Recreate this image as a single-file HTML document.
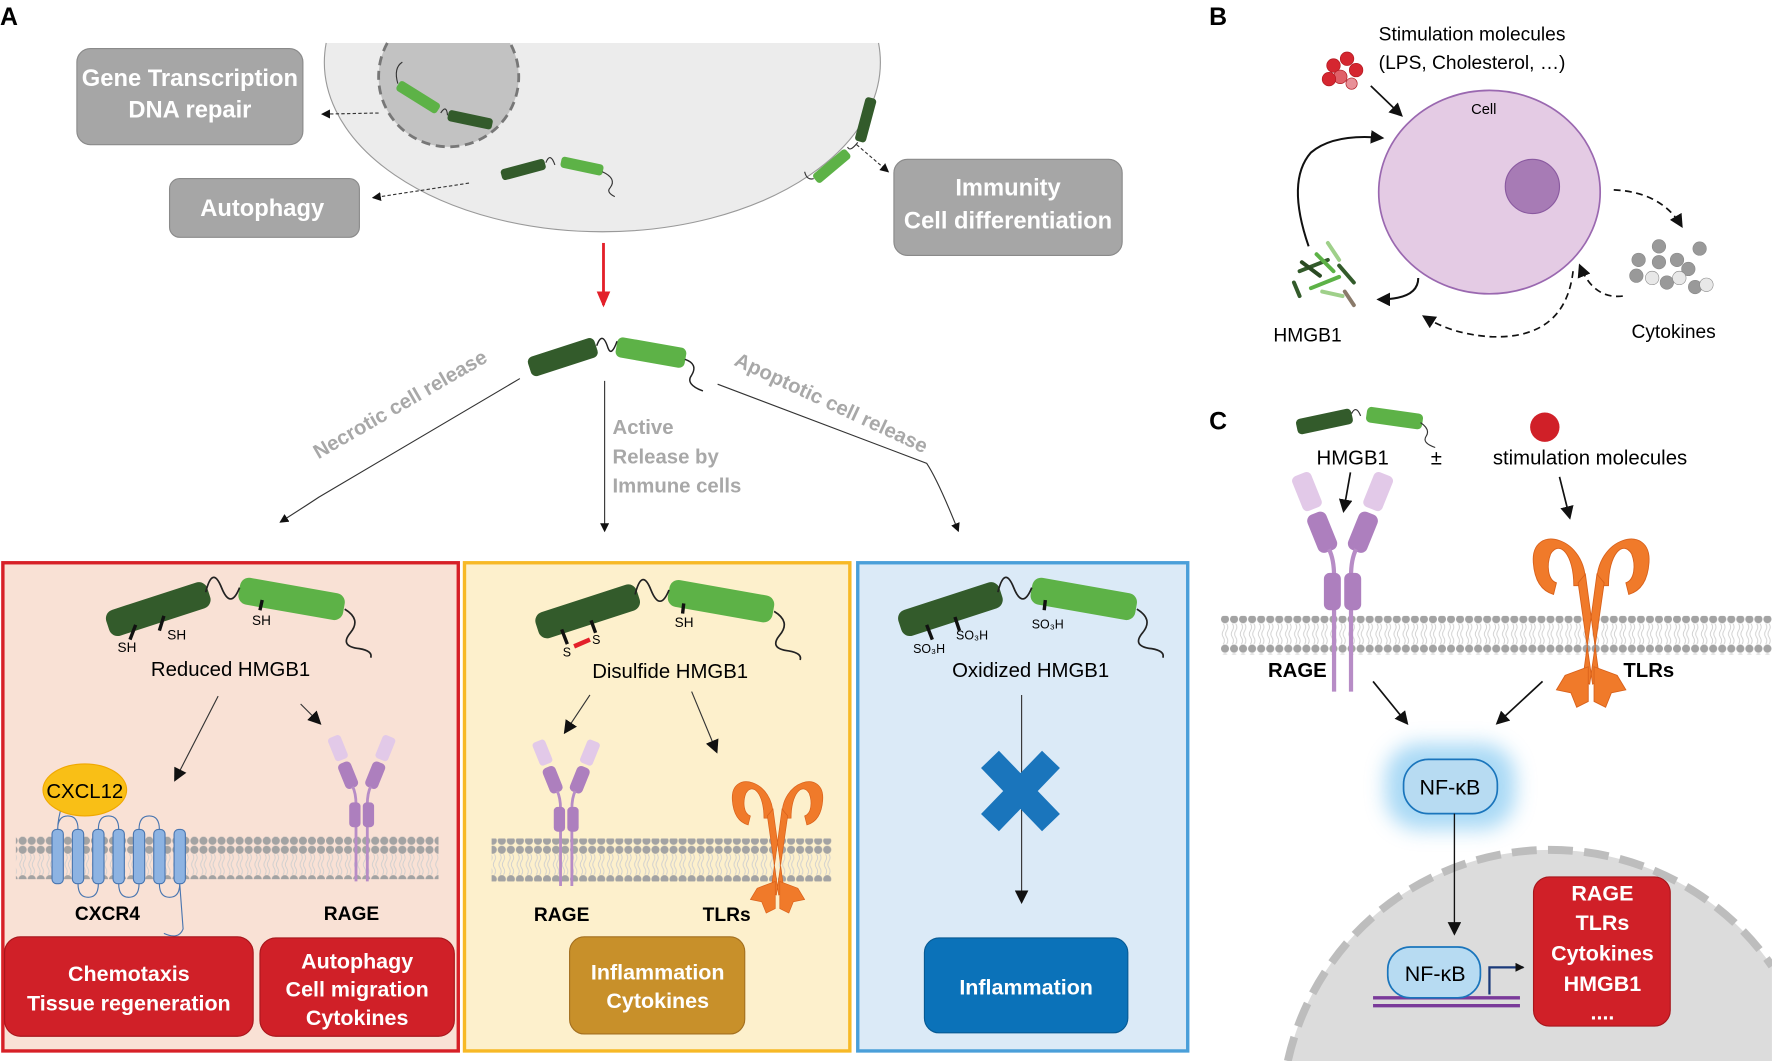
<!DOCTYPE html>
<html><head><meta charset="utf-8"><style>
html,body{margin:0;padding:0;background:#fff;overflow:hidden;width:1772px;height:1061px;}
svg{display:block;}
text{font-family:"Liberation Sans",sans-serif;}
</style></head><body>
<svg width="1772" height="1061" viewBox="0 0 1568 938.9" xmlns="http://www.w3.org/2000/svg">
<defs>
<marker id="ah" markerWidth="8" markerHeight="8" refX="7" refY="4" orient="auto" markerUnits="userSpaceOnUse"><path d="M0,0 L8,4 L0,8 z" fill="#111"/></marker>
<marker id="ahb" markerWidth="12" markerHeight="12" refX="10" refY="6" orient="auto" markerUnits="userSpaceOnUse"><path d="M0,0 L12,6 L0,12 z" fill="#111"/></marker>
<marker id="ahr" markerWidth="14" markerHeight="12" refX="12" refY="6" orient="auto" markerUnits="userSpaceOnUse"><path d="M0,0 L14,6 L0,12 z" fill="#e3202a"/></marker>
<pattern id="mem" width="8" height="34" patternUnits="userSpaceOnUse">
<circle cx="4" cy="4" r="3.6" fill="#a3a3a3"/><circle cx="4" cy="30" r="3.6" fill="#a3a3a3"/>
<path d="M2.5,8 q2,3 0,6 q-2,3 0,6 q2,3 0,6 M5.5,8 q2,3 0,6 q-2,3 0,6 q2,3 0,6" stroke="#cfcfcf" stroke-width="0.8" fill="none"/>
</pattern>
<filter id="glow" x="-30%" y="-30%" width="160%" height="160%"><feGaussianBlur stdDeviation="9"/></filter>
<g id="rage">
<rect x="-6" y="-11" width="12" height="22" rx="3" fill="#e2c9e8" transform="translate(-21,10) rotate(-22)"/>
<rect x="-6" y="-11" width="12" height="22" rx="3" fill="#e2c9e8" transform="translate(21,10) rotate(22)"/>
<rect x="-6" y="-12" width="12" height="24" rx="4" fill="#ad7fbe" transform="translate(-12,34) rotate(-22)"/>
<rect x="-6" y="-12" width="12" height="24" rx="4" fill="#ad7fbe" transform="translate(12,34) rotate(22)"/>
<path d="M-8,44 Q-5,50 -5,60 L-5,128 M8,44 Q5,50 5,60 L5,128" stroke="#b78cc6" stroke-width="2.5" fill="none"/>
<rect x="-11" y="58" width="10" height="22" rx="3.5" fill="#ad7fbe"/>
<rect x="1" y="58" width="10" height="22" rx="3.5" fill="#ad7fbe"/>
</g>
<g id="tlr" fill="#f07a2a" stroke="#d8601a" stroke-width="0.6">
<path d="M-4,44 C-2,10 -42,0 -40,28 C-39,42 -33,48 -26,50 L-24,42 C-30,40 -31,30 -28,22 C-22,12 -12,22 -12,44 z"/>
<path d="M4,44 C2,10 42,0 40,28 C39,42 33,48 26,50 L24,42 C30,40 31,30 28,22 C22,12 12,22 12,44 z"/>
<path d="M-9,42 L-4,36 L6,110 L1,112 z M9,42 L4,36 L-6,110 L-1,112 z"/>
<path d="M-2,100 L-18,106 L-24,116 L-14,118 L-10,128 L-2,124 z"/>
<path d="M2,100 L18,106 L24,116 L14,118 L10,128 L2,124 z"/>
</g>
<g id="mol">
<rect x="-47" y="-12" width="94" height="24" rx="8" fill="#335b2b" transform="translate(140,539) rotate(-18)"/>
<rect x="-47" y="-12" width="94" height="24" rx="8" fill="#5db247" transform="translate(258,530) rotate(10)"/>
<path d="M182,524 Q188,500 196,520 Q204,540 212,520" stroke="#222" stroke-width="1.5" fill="none"/>
<path d="M305,539 Q320,548 310,560 Q300,572 318,574 Q330,576 328,582" stroke="#222" stroke-width="1.5" fill="none"/>
</g>
</defs>

<text x="0" y="22" font-size="22" font-weight="bold">A</text>
<text x="1070" y="22" font-size="22" font-weight="bold">B</text>
<text x="1070" y="380" font-size="22" font-weight="bold">C</text>

<path d="M288.6,38 A246,150 0 1,0 777.4,38" fill="#ececec" stroke="#999" stroke-width="1"/>
<path d="M342.7,38 A62,62 0 1,0 451.3,38" fill="#c2c2c2" stroke="#777" stroke-width="2.5" stroke-dasharray="8,5"/>
<rect x="-21" y="-5" width="42" height="10" rx="3" fill="#5db247" transform="translate(370,86) rotate(32)"/>
<rect x="-20" y="-5" width="40" height="10" rx="3" fill="#335b2b" transform="translate(416,106) rotate(12)"/>
<path d="M352,74 Q348,60 356,55 M390,100 Q395,92 396,102" stroke="#333" stroke-width="1" fill="none"/>
<rect x="-20" y="-5" width="40" height="10" rx="3" fill="#335b2b" transform="translate(463,150) rotate(-15)"/>
<rect x="-19" y="-5" width="38" height="10" rx="3" fill="#5db247" transform="translate(515,147) rotate(12)"/>
<path d="M483,144 Q487,134 491,146 M533,152 Q546,158 540,166 Q536,170 544,174" stroke="#333" stroke-width="1" fill="none"/>
<rect x="-5" y="-20" width="10" height="40" rx="3" fill="#335b2b" transform="translate(766,106) rotate(15)"/>
<rect x="-5" y="-19" width="10" height="38" rx="3" fill="#5db247" transform="translate(736,147) rotate(50)"/>
<path d="M759,126 Q752,135 750,130 M720,158 Q714,160 712,152" stroke="#333" stroke-width="1" fill="none"/>

<rect x="68" y="43" width="200" height="85" rx="12" fill="#a6a6a6" stroke="#8a8a8a"/>
<text x="168" y="76" font-size="21" font-weight="bold" fill="#fff" text-anchor="middle">Gene Transcription</text>
<text x="168" y="104" font-size="21" font-weight="bold" fill="#fff" text-anchor="middle">DNA repair</text>
<rect x="150" y="158" width="168" height="52" rx="9" fill="#a6a6a6" stroke="#8a8a8a"/>
<text x="232" y="191" font-size="21" font-weight="bold" fill="#fff" text-anchor="middle">Autophagy</text>
<rect x="791" y="141" width="202" height="85" rx="12" fill="#a6a6a6" stroke="#8a8a8a"/>
<text x="892" y="173" font-size="21" font-weight="bold" fill="#fff" text-anchor="middle">Immunity</text>
<text x="892" y="202" font-size="21" font-weight="bold" fill="#fff" text-anchor="middle">Cell differentiation</text>
<path d="M335,100 L285,101" stroke="#333" stroke-width="1" stroke-dasharray="3,2" fill="none" marker-end="url(#ah)"/>
<path d="M415,162 L330,175" stroke="#333" stroke-width="1" stroke-dasharray="3,2" fill="none" marker-end="url(#ah)"/>
<path d="M758,128 L786,152" stroke="#333" stroke-width="1" stroke-dasharray="3,2" fill="none" marker-end="url(#ah)"/>
<path d="M534,215 L534,270" stroke="#e3202a" stroke-width="2.5" marker-end="url(#ahr)"/>

<rect x="-31" y="-9" width="62" height="18" rx="5" fill="#335b2b" transform="translate(498,316) rotate(-18)"/>
<rect x="-31" y="-9" width="62" height="18" rx="5" fill="#5db247" transform="translate(576,312) rotate(10)"/>
<path d="M528,306 Q533,292 538,308 Q541,316 546,302 M606,318 Q618,322 612,332 Q606,340 622,346" stroke="#222" stroke-width="1.3" fill="none"/>

<path d="M460,335 L282,440 Q270,448 248,462" stroke="#333" stroke-width="1" fill="none" marker-end="url(#ah)"/>
<path d="M535,337 L535,470" stroke="#333" stroke-width="1" fill="none" marker-end="url(#ah)"/>
<path d="M635,340 L820,410 Q830,425 848,470" stroke="#333" stroke-width="1" fill="none" marker-end="url(#ah)"/>
<text transform="translate(357,363) rotate(-30)" font-size="18" font-weight="bold" fill="#a8a8a8" text-anchor="middle">Necrotic cell release</text>
<text transform="translate(733,362) rotate(25)" font-size="18" font-weight="bold" fill="#a8a8a8" text-anchor="middle">Apoptotic cell release</text>
<text x="542" y="384" font-size="18" font-weight="bold" fill="#a8a8a8">Active</text>
<text x="542" y="410" font-size="18" font-weight="bold" fill="#a8a8a8">Release by</text>
<text x="542" y="436" font-size="18" font-weight="bold" fill="#a8a8a8">Immune cells</text>

<rect x="2.5" y="498" width="403" height="432" fill="#f9e1d5" stroke="#d72027" stroke-width="3"/>
<rect x="411" y="498" width="341" height="432" fill="#fdf0cc" stroke="#f7b926" stroke-width="3"/>
<rect x="759" y="498" width="292" height="432" fill="#dbeaf7" stroke="#4a9fd9" stroke-width="3"/>

<use href="#mol"/>
<path d="M120,553 L115,566 M145,545 L141,558 M232,531 L230,540" stroke="#111" stroke-width="3"/>
<text x="104" y="577" font-size="12">SH</text>
<text x="148" y="566" font-size="12">SH</text>
<text x="223" y="553" font-size="12">SH</text>
<text x="204" y="598" font-size="18" text-anchor="middle">Reduced HMGB1</text>
<path d="M193,616 L155,690" stroke="#333" stroke-width="1" marker-end="url(#ahb)"/>
<path d="M266,623 L283,640" stroke="#333" stroke-width="1" marker-end="url(#ahb)"/>
<rect x="14" y="740" width="374" height="38" fill="url(#mem)"/>
<path d="M51,734 Q51,725 55,712 M51,734 Q51,722 60,722 Q69,722 69,734 M87,734 Q87,722 96,722 Q105,722 105,734 M123,734 Q123,722 132,722 Q141,722 141,734 M69,782 Q69,794 78,794 Q87,794 87,782 M105,782 Q105,794 114,794 Q123,794 123,782 M141,782 Q141,794 150,794 Q159,794 159,782 M159,782 L162,822 Q158,832 145,826" stroke="#4a76b0" stroke-width="1" fill="none"/>
<g fill="#8db3e2" stroke="#4a76b0" stroke-width="1">
<rect x="46" y="734" width="10" height="48" rx="4"/><rect x="64" y="734" width="10" height="48" rx="4"/><rect x="82" y="734" width="10" height="48" rx="4"/><rect x="100" y="734" width="10" height="48" rx="4"/><rect x="118" y="734" width="10" height="48" rx="4"/><rect x="136" y="734" width="10" height="48" rx="4"/><rect x="154" y="734" width="10" height="48" rx="4"/>
</g>
<ellipse cx="75" cy="699" rx="37" ry="23" fill="#f9bf16" stroke="#f0a800"/>
<text x="75" y="706" font-size="18" text-anchor="middle">CXCL12</text>
<text x="95" y="814" font-size="17" font-weight="bold" text-anchor="middle">CXCR4</text>
<use href="#rage" transform="translate(320,652)"/>
<text x="311" y="814" font-size="17" font-weight="bold" text-anchor="middle">RAGE</text>
<rect x="4" y="829" width="220" height="88" rx="14" fill="#d02028" stroke="#a8161c"/>
<text x="114" y="868" font-size="19" font-weight="bold" fill="#fff" text-anchor="middle">Chemotaxis</text>
<text x="114" y="894" font-size="19" font-weight="bold" fill="#fff" text-anchor="middle">Tissue regeneration</text>
<rect x="230" y="830" width="172" height="87" rx="14" fill="#d02028" stroke="#a8161c"/>
<text x="316" y="857" font-size="19" font-weight="bold" fill="#fff" text-anchor="middle">Autophagy</text>
<text x="316" y="882" font-size="19" font-weight="bold" fill="#fff" text-anchor="middle">Cell migration</text>
<text x="316" y="907" font-size="19" font-weight="bold" fill="#fff" text-anchor="middle">Cytokines</text>

<use href="#mol" transform="translate(380,2)"/>
<path d="M497,557 L502,570 M523,549 L527,560 M605,534 L604,543" stroke="#111" stroke-width="3"/>
<path d="M508,572 L522,566" stroke="#e3202a" stroke-width="4"/>
<text x="498" y="581" font-size="11">S</text>
<text x="524" y="570" font-size="11">S</text>
<text x="597" y="555" font-size="12">SH</text>
<text x="593" y="600" font-size="18" text-anchor="middle">Disulfide HMGB1</text>
<path d="M522,615 L500,648" stroke="#333" stroke-width="1" marker-end="url(#ahb)"/>
<path d="M612,612 L634,665" stroke="#333" stroke-width="1" marker-end="url(#ahb)"/>
<rect x="435" y="742" width="301" height="38" fill="url(#mem)"/>
<use href="#rage" transform="translate(501,656)"/>
<use href="#tlr" transform="translate(688,680)"/>
<text x="497" y="815" font-size="17" font-weight="bold" text-anchor="middle">RAGE</text>
<text x="643" y="815" font-size="17" font-weight="bold" text-anchor="middle">TLRs</text>
<rect x="504" y="829" width="155" height="86" rx="13" fill="#c8902a" stroke="#a47020"/>
<text x="582" y="867" font-size="19" font-weight="bold" fill="#fff" text-anchor="middle">Inflammation</text>
<text x="582" y="892" font-size="19" font-weight="bold" fill="#fff" text-anchor="middle">Cytokines</text>

<use href="#mol" transform="translate(701,0)"/>
<path d="M820,553 L825,566 M845,546 L849,558 M925,531 L924,540" stroke="#111" stroke-width="3"/>
<text x="808" y="578" font-size="11">SO₃H</text>
<text x="846" y="566" font-size="11">SO₃H</text>
<text x="913" y="556" font-size="11">SO₃H</text>
<text x="912" y="599" font-size="18" text-anchor="middle">Oxidized HMGB1</text>
<path d="M904,615 L904,798" stroke="#333" stroke-width="1" marker-end="url(#ahb)"/>
<path d="M876,672 L930,728 M930,672 L876,728" stroke="#1a75bc" stroke-width="22"/>
<rect x="818" y="830" width="180" height="84" rx="13" fill="#0b72b9" stroke="#075a94"/>
<text x="908" y="880" font-size="19" font-weight="bold" fill="#fff" text-anchor="middle">Inflammation</text>

<text x="1220" y="36" font-size="17">Stimulation molecules</text>
<text x="1220" y="61" font-size="17">(LPS, Cholesterol, …)</text>
<g stroke="#b01820" stroke-width="0.6">
<circle cx="1180" cy="58" r="6" fill="#d52630"/><circle cx="1192" cy="52" r="6" fill="#d52630"/><circle cx="1200" cy="62" r="6" fill="#d52630"/><circle cx="1186" cy="68" r="6" fill="#e06068"/><circle cx="1176" cy="70" r="6" fill="#d52630"/><circle cx="1196" cy="74" r="5" fill="#e89098"/>
</g>
<path d="M1213,76 L1240,102" stroke="#111" stroke-width="1.5" marker-end="url(#ahb)"/>
<ellipse cx="1318" cy="170" rx="98" ry="90" fill="#e4cbe4" stroke="#9a68b0" stroke-width="1.5"/>
<circle cx="1356" cy="165" r="24" fill="#a77bb5" stroke="#8a5aa0"/>
<text x="1313" y="101" font-size="13" text-anchor="middle">Cell</text>
<path d="M1158,218 Q1138,160 1160,135 Q1180,118 1223,122" stroke="#111" stroke-width="1.8" fill="none" marker-end="url(#ahb)"/>
<path d="M1255,246 Q1255,265 1220,265" stroke="#111" stroke-width="1.8" fill="none" marker-end="url(#ahb)"/>
<g stroke-width="3.5" stroke-linecap="round">
<path d="M1150,240 L1175,230" stroke="#335b2b"/><path d="M1160,255 L1185,245" stroke="#5db247"/><path d="M1165,225 L1180,240" stroke="#5db247"/><path d="M1145,250 L1150,262" stroke="#335b2b"/><path d="M1185,235 L1198,250" stroke="#335b2b"/><path d="M1190,258 L1198,270" stroke="#8a7a6a"/><path d="M1175,215 L1185,230" stroke="#9fd08a"/><path d="M1170,258 L1188,262" stroke="#9fd08a"/><path d="M1152,232 L1168,244" stroke="#2a4a22"/>
</g>
<text x="1157" y="302" font-size="17" text-anchor="middle">HMGB1</text>
<path d="M1428,168 Q1470,170 1488,200" stroke="#111" stroke-width="1.5" stroke-dasharray="6,4" fill="none" marker-end="url(#ahb)"/>
<path d="M1436,262 Q1410,265 1398,235" stroke="#111" stroke-width="1.5" stroke-dasharray="6,4" fill="none" marker-end="url(#ahb)"/>
<path d="M1392,240 Q1385,300 1320,298 Q1285,296 1260,280" stroke="#111" stroke-width="1.5" stroke-dasharray="6,4" fill="none" marker-end="url(#ahb)"/>
<g fill="#999" stroke="#888" stroke-width="0.5">
<circle cx="1468" cy="218" r="6"/><circle cx="1504" cy="220" r="6"/><circle cx="1450" cy="230" r="6"/><circle cx="1468" cy="232" r="6"/><circle cx="1484" cy="230" r="6"/><circle cx="1448" cy="244" r="6"/><circle cx="1494" cy="238" r="6"/><circle cx="1475" cy="250" r="6"/><circle cx="1500" cy="254" r="6"/>
<circle cx="1462" cy="246" r="6" fill="#e8e8e8"/><circle cx="1510" cy="252" r="6" fill="#e8e8e8"/><circle cx="1486" cy="246" r="6" fill="#e8e8e8"/>
</g>
<text x="1481" y="299" font-size="17" text-anchor="middle">Cytokines</text>

<rect x="-25" y="-7" width="50" height="14" rx="4" fill="#335b2b" transform="translate(1172,373) rotate(-12)"/>
<rect x="-25" y="-7" width="50" height="14" rx="4" fill="#5db247" transform="translate(1234,370) rotate(8)"/>
<path d="M1196,366 Q1200,358 1204,368 M1257,374 Q1266,380 1262,386 Q1258,392 1270,396" stroke="#333" stroke-width="1" fill="none"/>
<text x="1197" y="411" font-size="18" text-anchor="middle">HMGB1</text>
<text x="1271" y="411" font-size="18" text-anchor="middle">±</text>
<circle cx="1367" cy="378" r="13" fill="#d02028"/>
<text x="1407" y="411" font-size="18" text-anchor="middle">stimulation molecules</text>
<path d="M1195,418 L1189,452" stroke="#111" stroke-width="1.5" marker-end="url(#ahb)"/>
<path d="M1380,422 L1389,458" stroke="#111" stroke-width="1.5" marker-end="url(#ahb)"/>
<rect x="1080" y="545" width="488" height="34" fill="url(#mem)"/>
<use href="#rage" transform="translate(1188,420) scale(1.5)"/>
<use href="#tlr" transform="translate(1408,462) scale(1.28)"/>
<text x="1148" y="599" font-size="18" font-weight="bold" text-anchor="middle">RAGE</text>
<text x="1459" y="599" font-size="18" font-weight="bold" text-anchor="middle">TLRs</text>
<path d="M1215,603 L1245,640" stroke="#111" stroke-width="1.5" marker-end="url(#ahb)"/>
<path d="M1365,603 L1325,640" stroke="#111" stroke-width="1.5" marker-end="url(#ahb)"/>
<path d="M1139.6,938.9 A238,238 0 0,1 1568,855 L1568,938.9 Z" fill="#dcdcdc"/>
<path d="M1139.6,938.9 A238,238 0 0,1 1568,855" fill="none" stroke="#bdbdbd" stroke-width="7" stroke-dasharray="22,10"/>
<rect x="1226" y="658" width="115" height="76" rx="30" fill="#6fc0ef" opacity="0.6" filter="url(#glow)"/>
<rect x="1242" y="672" width="83" height="48" rx="22" fill="#b7dbf2" stroke="#1a75bc" stroke-width="1.5"/>
<text x="1283" y="703" font-size="19" text-anchor="middle">NF-κB</text>
<path d="M1287,720 L1287,826" stroke="#111" stroke-width="1.2" marker-end="url(#ahb)"/>
<path d="M1215,883 L1345,883 M1215,890 L1345,890" stroke="#7a3a9a" stroke-width="3"/>
<rect x="1228" y="838" width="82" height="45" rx="20" fill="#b7dbf2" stroke="#1a75bc" stroke-width="1.5"/>
<text x="1270" y="868" font-size="19" text-anchor="middle">NF-κB</text>
<path d="M1318,880 L1318,856 L1348,856" stroke="#1a3a7a" stroke-width="2" fill="none" marker-end="url(#ah)"/>
<rect x="1357" y="776" width="121" height="132" rx="14" fill="#d02028" stroke="#a8161c"/>
<g font-size="19" font-weight="bold" fill="#fff" text-anchor="middle">
<text x="1418" y="797">RAGE</text><text x="1418" y="823">TLRs</text><text x="1418" y="850">Cytokines</text><text x="1418" y="877">HMGB1</text><text x="1418" y="902">....</text>
</g>
</svg>
</body></html>
